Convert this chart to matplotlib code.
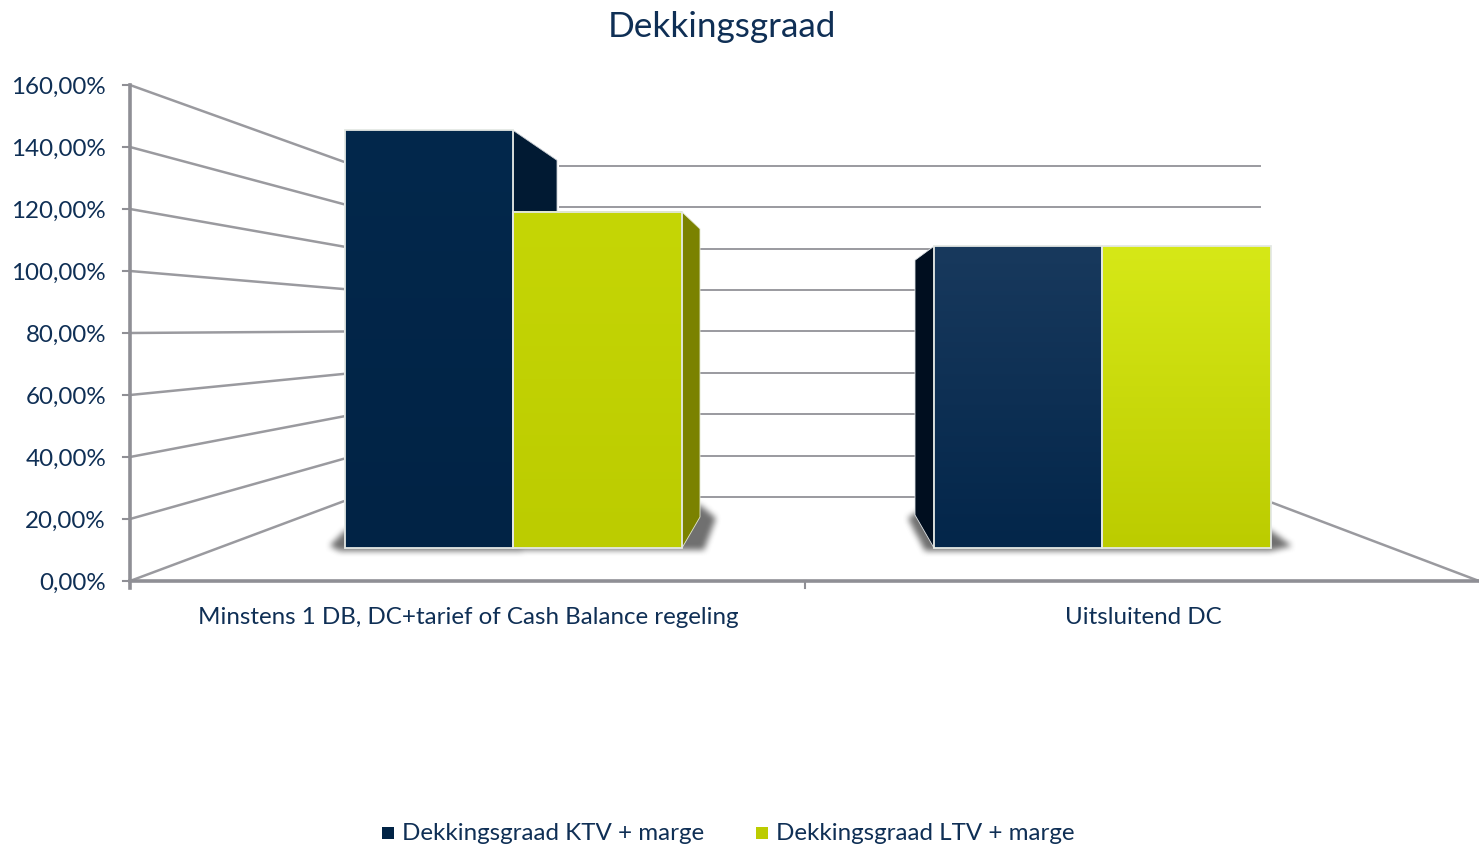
import matplotlib

matplotlib.use('Agg')

import matplotlib.pyplot as plt
from matplotlib.colors import to_rgb
from matplotlib.patches import Polygon, Rectangle
from matplotlib.path import Path
import numpy as np

# data
categories = ['Minstens 1 DB, DC+tarief of Cash Balance regeling', 'Uitsluitend DC']
series_names = ['Dekkingsgraad KTV + marge', 'Dekkingsgraad LTV + marge']
ktv_values = [155, 112]
ltv_values = [124.7, 112]
tick_values = [0, 20, 40, 60, 80, 100, 120, 140, 160]
tick_labels = ['0,00%', '20,00%', '40,00%', '60,00%', '80,00%', '100,00%', '120,00%', '140,00%', '160,00%']

TEXT = '#0f2f55'
GRID = '#9a9a9f'
AXIS = '#8f8f95'
FONT = 'Lato'
FS = 17.35


# de drie vlakken: voorkant, vlak van de staven, achterwand
def y_front(v):
    return 581 - v * 3.1


def y_bar(v):
    return 548 - v * 2.695


def y_back(v):
    return 497 - v * 2.07


def gradient_bar(ax, x0, x1, value, top, bottom):
    ytop = y_bar(value)
    ramp = np.linspace(0, 1, 64)[:, None, None]
    img = (1 - ramp) * np.array(to_rgb(top)) + ramp * np.array(to_rgb(bottom))
    ax.imshow(img, extent=(x0, x1, y_bar(0), ytop), aspect='auto', zorder=4, interpolation='bilinear')
    ax.add_patch(Rectangle((x0, ytop), x1 - x0, y_bar(0) - ytop, fill=False, ec='#e4e8e4', lw=1.3, zorder=5))


# zachte schaduw: polygoon als masker, daarna vervagen
def soft_shadow(ax, pts, x0, x1, y0, y1, blur=15, strength=0.8):
    xx, yy = np.meshgrid(np.arange(x0, x1), np.arange(y0, y1))
    mask = Path(pts).contains_points(np.c_[xx.ravel() + 0.5, yy.ravel() + 0.5]).reshape(xx.shape).astype(float)
    kernel = np.hanning(blur + 2)
    kernel = kernel / kernel.sum()
    mask = np.apply_along_axis(lambda r: np.convolve(r, kernel, mode='same'), 0, mask)
    mask = np.apply_along_axis(lambda r: np.convolve(r, kernel, mode='same'), 1, mask)
    img = np.zeros(mask.shape + (4,))
    img[..., :3] = 0.3
    img[..., 3] = mask * strength
    ax.imshow(img, extent=(x0, x1, y1, y0), aspect='auto', zorder=2, interpolation='bilinear')


fig = plt.figure(figsize=(14.79, 8.48), dpi=100)
ax = fig.add_axes([0, 0, 1, 1])

# muur- en achterlijnen
for v in tick_values:
    ax.plot([130, 343], [y_front(v), y_front(v) + (y_back(v) - y_front(v)) * 213 / 225], color=GRID, lw=1.8, zorder=1)
    ax.plot([560, 1260], [y_back(v), y_back(v)], color=GRID, lw=1.4, zorder=1)
    ax.plot([123, 130], [y_front(v), y_front(v)], color=AXIS, lw=1.5, zorder=6)
    ax.text(106, y_front(v) + 2, tick_labels[tick_values.index(v)], ha='right', va='center',
            fontsize=FS, color=TEXT, family=FONT)
ax.plot([1273, 1479], [y_back(0) + 6, y_front(0)], color=GRID, lw=1.8, zorder=1)

# assen
ax.plot([130, 130], [y_front(160), y_front(0) + 7], color=AXIS, lw=2.6, zorder=6)
ax.plot([130, 1479], [y_front(0), y_front(0)], color=AXIS, lw=2.6, zorder=6)
ax.plot([805, 805], [y_front(0), y_front(0) + 7], color=AXIS, lw=1.5, zorder=6)

# schaduwen
soft_shadow(ax, [(330, 546), (345, 530), (700, 505), (716, 518), (704, 550), (340, 551)], 290, 750, 490, 570)
soft_shadow(ax, [(908, 518), (920, 510), (940, 530), (1270, 530), (1292, 546), (1270, 551), (925, 551)],
            875, 1330, 490, 570)

# groep 1
x_a, x_b, x_c = 345, 513, 682
ax.add_patch(Polygon([(x_b, y_bar(ktv_values[0])), (557, y_bar(ktv_values[0]) + 30), (557, y_bar(ltv_values[0])),
                      (x_b, y_bar(ltv_values[0]))], fc='#011a33', ec='#c9ced4', lw=0.6, zorder=3))
ax.add_patch(Polygon([(x_c, y_bar(ltv_values[0])), (700, y_bar(ltv_values[0]) + 17), (700, y_bar(0) - 31),
                      (x_c, y_bar(0))], fc='#7b8200', ec='#e4e8d0', lw=0.6, zorder=3))
gradient_bar(ax, x_a, x_b, ktv_values[0], '#03284c', '#012345')
gradient_bar(ax, x_b, x_c, ltv_values[0], '#c5d606', '#bccc00')

# groep 2
x_d, x_e, x_f = 934, 1102, 1271
ax.add_patch(Polygon([(x_d, y_bar(ktv_values[1])), (915, y_bar(ktv_values[1]) + 14), (915, y_bar(0) - 33),
                      (x_d, y_bar(0))], fc='#000e1f', ec='#dfe3e6', lw=0.6, zorder=3))
gradient_bar(ax, x_d, x_e, ktv_values[1], '#18395d', '#03264a')
gradient_bar(ax, x_e, x_f, ltv_values[1], '#d6e817', '#bccc00')

# tekst
ax.text(722, 27, 'Dekkingsgraad', ha='center', va='center', fontsize=25.3, color=TEXT, family=FONT)
ax.text(468, 617, categories[0], ha='center', va='center', fontsize=FS, color=TEXT, family=FONT)
ax.text(1143, 617, categories[1], ha='center', va='center', fontsize=FS, color=TEXT, family=FONT)

# legenda
ax.add_patch(Rectangle((382, 827), 12, 12, fc='#012345', ec='none'))
ax.add_patch(Rectangle((756, 827), 12, 12, fc='#bccc00', ec='none'))
ax.text(402, 834, series_names[0], ha='left', va='center', fontsize=FS, color=TEXT, family=FONT)
ax.text(776, 834, series_names[1], ha='left', va='center', fontsize=FS, color=TEXT, family=FONT)

ax.set_xlim(0, 1479)
ax.set_ylim(848, 0)
ax.axis('off')
fig.savefig('out.png', dpi=100)
